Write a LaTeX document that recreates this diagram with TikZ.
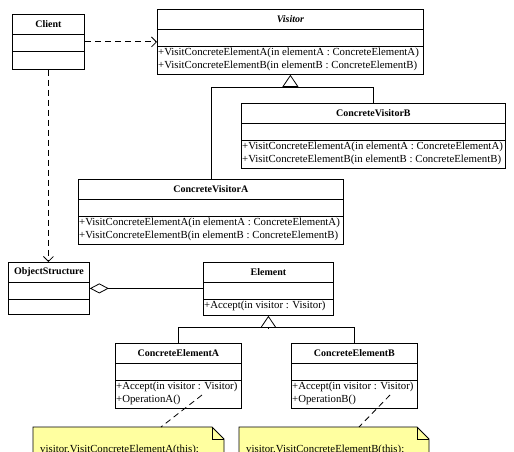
\documentclass[tikz,border=0pt]{standalone}
\usepackage{fontspec}
\setmainfont{Liberation Serif}
\usetikzlibrary{arrows.meta,positioning}

\definecolor{noteyellow}{RGB}{255,255,160}

\tikzset{
	classbox/.style={draw=black, line width=0.8pt, fill=white, rectangle, inner sep=0pt, anchor=north west},
	classname/.style={font=\bfseries, inner sep=0pt},
	method/.style={anchor=west, inner sep=0pt},
	depend/.style={line width=0.8pt, dash pattern=on 6pt off 4pt, -{Straight Barb[length=5pt,width=10pt]}},
	generalize/.style={line width=0.8pt, -{Triangle[open,length=12pt,width=16pt]}},
	aggregate/.style={line width=0.8pt, {Diamond[open,length=19pt,width=10pt]}-},
	noteline/.style={line width=0.8pt, dash pattern=on 6pt off 4pt},
	notebox/.style={draw=black, line width=0.8pt, fill=noteyellow},
}

\begin{document}
\begin{tikzpicture}[x=1pt, y=-1pt, font=\fontsize{10.8}{13}\selectfont]
	\useasboundingbox (0,0) rectangle (514,452);

	\pgfmathsetmacro{\hTitle}{20}
	\pgfmathsetmacro{\hAttr}{37}

	% Classi
	\node[classbox, minimum width=72pt, minimum height=55pt] (client) at (12,14) {};
	\node[classbox, minimum width=266pt, minimum height=65pt] (visitor) at (157,9) {};
	\node[classbox, minimum width=264pt, minimum height=65pt] (cvb) at (241,103) {};
	\node[classbox, minimum width=265pt, minimum height=65pt] (cva) at (78,179) {};
	\node[classbox, minimum width=81pt, minimum height=52pt] (objstruct) at (8,262) {};
	\node[classbox, minimum width=130pt, minimum height=53pt] (element) at (203,262) {};
	\node[classbox, minimum width=126pt, minimum height=65pt] (cea) at (115,343) {};
	\node[classbox, minimum width=126pt, minimum height=65pt] (ceb) at (291,343) {};

	\foreach \c in {client,visitor,cvb,cva,objstruct,element,cea,ceb}
	{
	\draw[line width=0.8pt] ([yshift=-\hTitle pt]\c.north west) -- ([yshift=-\hTitle pt]\c.north east);
	\draw[line width=0.8pt] ([yshift=-\hAttr pt]\c.north west) -- ([yshift=-\hAttr pt]\c.north east);
	}

	% Nomi
	\node[classname] (client-name) at ([yshift=-10pt]client.north) {Client};
	\node[classname, font=\bfseries\itshape] (visitor-name) at ([yshift=-10pt]visitor.north) {Visitor};
	\node[classname] (cvb-name) at ([yshift=-10pt]cvb.north) {ConcreteVisitorB};
	\node[classname] (cva-name) at ([yshift=-10pt]cva.north) {ConcreteVisitorA};
	\node[classname] (objstruct-name) at ([yshift=-10pt]objstruct.north) {ObjectStructure};
	\node[classname] (element-name) at ([yshift=-10pt]element.north) {Element};
	\node[classname] (cea-name) at ([yshift=-10pt]cea.north) {ConcreteElementA};
	\node[classname] (ceb-name) at ([yshift=-10pt]ceb.north) {ConcreteElementB};

	% Metodi
	\foreach \c in {visitor,cvb,cva}
	{
	\node[method] (\c-m1) at ([xshift=1pt,yshift=-44pt]\c.north west) {+VisitConcreteElementA(in elementA : ConcreteElementA)};
	\node[method] (\c-m2) at ([xshift=1pt,yshift=-57pt]\c.north west) {+VisitConcreteElementB(in elementB : ConcreteElementB)};
	}
	\node[method] (element-m1) at ([xshift=1pt,yshift=-44pt]element.north west) {+Accept(in visitor : Visitor)};
	\node[method] (cea-m1) at ([xshift=1pt,yshift=-44pt]cea.north west) {+Accept(in visitor : Visitor)};
	\node[method] (cea-m2) at ([xshift=1pt,yshift=-57pt]cea.north west) {+OperationA()};
	\node[method] (ceb-m1) at ([xshift=1pt,yshift=-44pt]ceb.north west) {+Accept(in visitor : Visitor)};
	\node[method] (ceb-m2) at ([xshift=1pt,yshift=-57pt]ceb.north west) {+OperationB()};

	% Relazioni
	\draw[depend] (client.east) -- (visitor.west);
	\draw[depend] (client.south) -- (client.south |- objstruct.north);
	\draw[aggregate] (objstruct.east) -- (objstruct.east -| element.west);

	\coordinate (vjoin) at ([yshift=-13pt]visitor.south);
	\draw[generalize] (vjoin) -- (visitor.south);
	\draw[line width=0.8pt] (cva.north) |- (vjoin) -| (cvb.north);

	\coordinate (ejoin) at ([yshift=-12pt]element.south);
	\draw[generalize] (ejoin) -- (element.south);
	\draw[line width=0.8pt] (cea.north) |- (ejoin) -| (ceb.north);

	% Note
	\coordinate (noteA) at (33,427);
	\coordinate (noteB) at (239,427);
	\foreach \n/\w in {noteA/191,noteB/190}
	{
	\filldraw[notebox] (\n) -- ++(\w-12,0) -- ++(12,12) -- ++(0,40) -- ++(-\w,0) -- cycle;
	\draw[line width=0.8pt] ([xshift=\w pt-12pt]\n) -- ++(0,12) -- ++(12,0);
	}
	\node[method] (noteA-text) at ([xshift=7pt,yshift=-23pt]noteA) {visitor.VisitConcreteElementA(this);};
	\node[method] (noteB-text) at ([xshift=7pt,yshift=-23pt]noteB) {visitor.VisitConcreteElementB(this);};

	\coordinate (opA) at ([xshift=87pt,yshift=-52pt]cea.north west);
	\coordinate (opB) at ([xshift=99pt,yshift=-52pt]ceb.north west);
	\draw[noteline] (opA) -- ([xshift=128pt]noteA);
	\draw[noteline] (opB) -- ([xshift=120pt]noteB);
\end{tikzpicture}
\end{document}
